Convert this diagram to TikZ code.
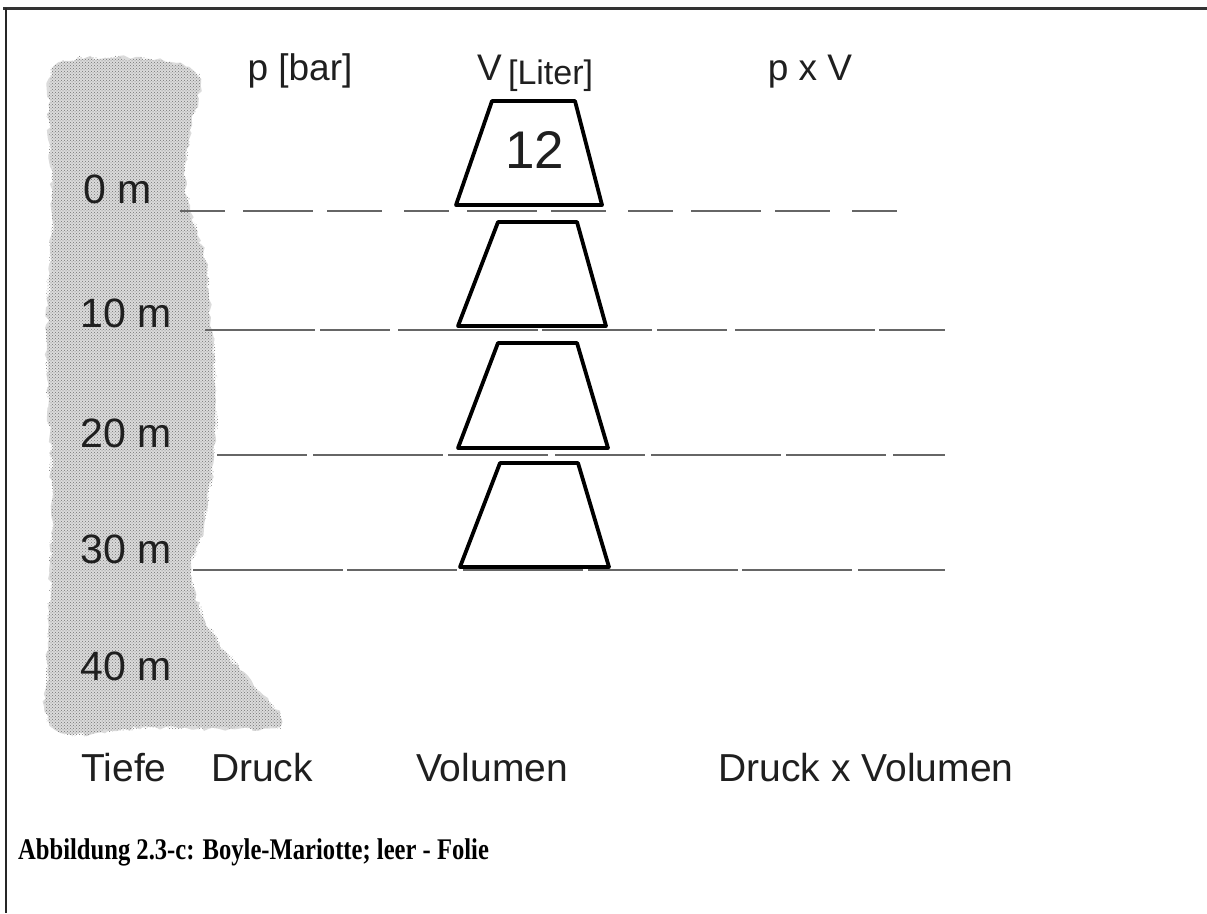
\documentclass[tikz,border=0pt]{standalone}
\usepackage{fontspec}
\setmainfont{Liberation Sans}
\newfontfamily\capfont{Liberation Serif}
\usetikzlibrary{patterns,decorations.pathmorphing}
\begin{document}
\begin{tikzpicture}[x=1pt,y=-1pt,
  lbl/.style={inner sep=0pt, text=black!88},
  depthlbl/.style={lbl, anchor=east, font=\fontsize{41}{41}\selectfont},
  headlbl/.style={lbl, font=\fontsize{37}{37}\selectfont},
  footlbl/.style={lbl, font=\fontsize{39}{39}\selectfont},
  depthline/.style={draw=black!60, line width=1.2pt},
  vessel/.style={draw=black, line width=3.8pt, line join=round}]
\useasboundingbox (0,0) rectangle (1207,913);
\fill[white] (0,0) rectangle (1207,913);

% frame
\draw[line width=3pt, black!80] (3,8) -- (1207,8);
\draw[line width=2pt, black!85] (6,8) -- (6,913);

% water column, stippled
\def\columnoutline{plot[smooth cycle, tension=0.6] coordinates {
  (55,66) (110,58) (170,62) (200,80) (190,130) (185,170) (190,211)
  (205,260) (212,330) (216,400) (214,455) (205,520) (192,570)
  (205,620) (240,670) (282,722) (230,729) (150,727) (55,729)
  (48,650) (52,500) (47,350) (52,200) (49,120)}}
\fill[black!14, decorate, decoration={random steps, segment length=5pt, amplitude=2.5pt}]
  \columnoutline;
\fill[pattern=crosshatch dots, pattern color=black!55, decorate,
  decoration={random steps, segment length=5pt, amplitude=2.5pt}]
  \columnoutline;

% depth lines
\coordinate (l0a) at (180,211); \coordinate (l0b) at (915,211);
\coordinate (l1a) at (205,330); \coordinate (l1b) at (945,330);
\coordinate (l2a) at (217,455); \coordinate (l2b) at (945,455);
\coordinate (l3a) at (193,570); \coordinate (l3b) at (945,570);
\draw[depthline, dash pattern=on 45pt off 18pt on 70pt off 14pt on 55pt off 22pt] (l0a) -- (l0b);
\draw[depthline, dash pattern=on 110pt off 5pt on 70pt off 8pt on 140pt off 4pt] (l1a) -- (l1b);
\draw[depthline, dash pattern=on 90pt off 6pt on 130pt off 5pt on 100pt off 7pt] (l2a) -- (l2b);
\draw[depthline, dash pattern=on 150pt off 4pt on 110pt off 6pt on 120pt off 5pt] (l3a) -- (l3b);

% vessels
\draw[vessel] (456,205) -- (492,101) -- (575,101) -- (602,205) -- cycle;
\draw[vessel] (458,326) -- (498,222) -- (577,222) -- (606,326) -- cycle;
\draw[vessel] (458,448) -- (498,343) -- (577,343) -- (608,448) -- cycle;
\draw[vessel] (460,567) -- (500,463) -- (578,463) -- (609,567) -- cycle;
\node[lbl, font=\fontsize{53}{53}\selectfont] (vol0) at (535,150) {12};

% depth labels
\node[depthlbl] (d0) at (152,189) {0 m};
\node[depthlbl] (d1) at (172,313) {10 m};
\node[depthlbl] (d2) at (172,433) {20 m};
\node[depthlbl] (d3) at (172,549) {30 m};
\node[depthlbl] (d4) at (172,666) {40 m};

% column heads
\node[headlbl, anchor=base] (hp) at (300,80) {p [bar]};
\node[headlbl, anchor=base west] (hv) at (477,80)
  {V\,\fontsize{34}{34}\selectfont\raisebox{-4pt}{[Liter]}};
\node[headlbl, anchor=base] (hpv) at (810,80) {p x V};

% column feet
\node[footlbl] (ft) at (124,768) {Tiefe};
\node[footlbl] (fd) at (262,768) {Druck};
\node[footlbl] (fv) at (492,768) {Volumen};
\node[footlbl] (fdv) at (866,768) {Druck x Volumen};

% caption
\node[inner sep=0pt, anchor=west, font=\capfont\bfseries\fontsize{30}{30}\selectfont] (cap) at (18,852)
  {\scalebox{0.82}[1]{Abbildung 2.3-c: Boyle-Mariotte; leer - Folie}};
\end{tikzpicture}
\end{document}
